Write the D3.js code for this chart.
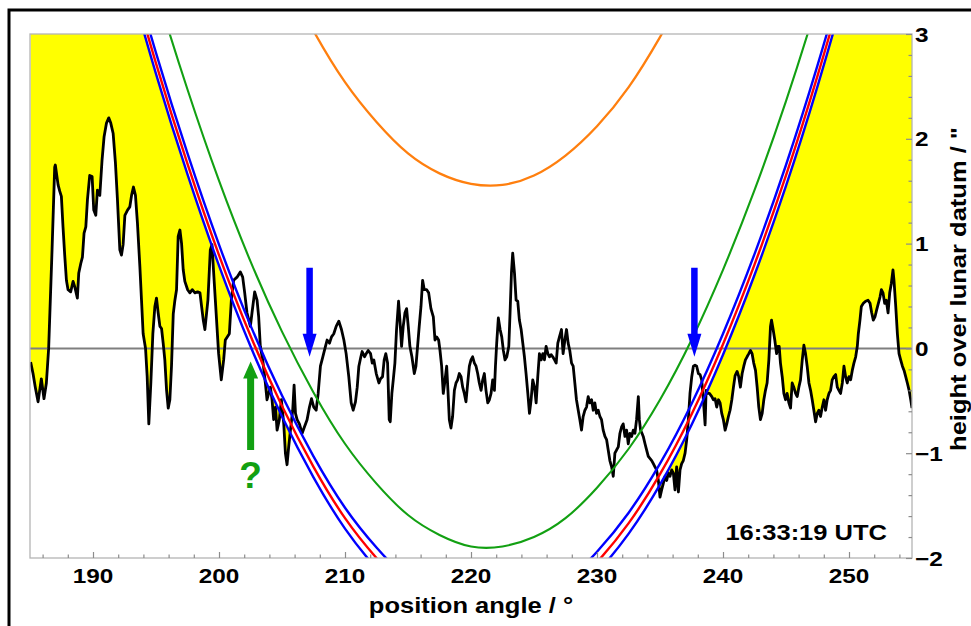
<!DOCTYPE html>
<html><head><meta charset="utf-8">
<script src="https://cdn.jsdelivr.net/npm/d3@7"></script>
<style>
body{margin:0;background:#fff}
svg{display:block}
text{font-family:"Liberation Sans",Arial,sans-serif;font-weight:bold;fill:#000}
</style>
</head><body>
<svg id="chart" width="971" height="626"></svg>
<script>
// ---------- DATA ----------
// lunar limb profile: [position angle (deg), height over lunar datum (arcsec)]
const profile = [
[185.05,-0.13],[185.24,-0.24],[185.42,-0.37],[185.64,-0.51],[185.90,-0.29],[186.11,-0.48],[186.30,-0.33],[186.48,0.00],[186.75,0.94],[186.96,1.73],[187.01,1.75],[187.23,1.56],[187.36,1.50],[187.49,1.45],[187.62,1.16],[187.76,0.88],[187.89,0.65],[188.02,0.56],[188.23,0.54],[188.42,0.64],[188.55,0.59],[188.76,0.48],[188.87,0.72],[189.03,0.81],[189.16,0.87],[189.29,1.10],[189.43,1.16],[189.56,1.42],[189.74,1.65],[189.93,1.64],[190.06,1.32],[190.22,1.27],[190.35,1.51],[190.54,1.46],[190.72,1.80],[190.88,2.02],[191.07,2.15],[191.25,2.20],[191.41,2.15],[191.60,2.05],[191.78,1.77],[191.94,1.42],[192.13,0.94],[192.26,0.89],[192.39,0.99],[192.53,1.27],[192.74,1.32],[192.92,1.35],[193.06,1.46],[193.21,1.54],[193.37,1.46],[193.53,1.19],[193.72,0.78],[193.85,0.46],[193.98,0.14],[194.17,0.00],[194.30,-0.27],[194.43,-0.72],[194.59,-0.33],[194.75,0.14],[194.91,0.40],[195.04,0.48],[195.17,0.34],[195.31,0.21],[195.44,0.19],[195.57,0.05],[195.70,-0.11],[195.84,-0.40],[195.97,-0.57],[196.10,-0.49],[196.23,-0.17],[196.37,0.33],[196.50,0.46],[196.63,0.56],[196.76,1.07],[196.90,1.13],[197.03,1.00],[197.16,0.75],[197.29,0.64],[197.51,0.56],[197.69,0.53],[197.88,0.56],[198.09,0.53],[198.30,0.54],[198.49,0.53],[198.62,0.40],[198.75,0.27],[198.88,0.18],
[199.12,0.46],[199.31,0.94],[199.44,0.99],[199.71,0.46],[199.97,-0.05],[200.18,-0.30],[200.37,-0.11],[200.50,0.08],[200.82,0.14],[200.98,0.46],[201.16,0.65],[201.43,0.68],[201.69,0.73],[201.88,0.68],[202.04,0.53],[202.22,0.34],[202.49,0.21],[202.62,0.34],[202.83,0.54],[203.02,0.46],[203.15,0.30],[203.28,0.02],[203.47,-0.11],[203.68,-0.33],[203.81,-0.49],[203.94,-0.43],[204.08,-0.37],[204.21,-0.49],[204.34,-0.68],[204.48,-0.56],[204.61,-0.78],[204.79,-0.68],[204.95,-0.49],[205.14,-0.72],[205.27,-1.00],[205.40,-1.11],[205.53,-0.94],[205.67,-0.78],[205.85,-0.59],[205.96,-0.35],[206.07,-0.62],[206.20,-0.68],[206.38,-0.72],[206.60,-0.81],[206.75,-0.76],[206.99,-0.68],[207.18,-0.56],[207.34,-0.48],[207.52,-0.56],[207.71,-0.59],[207.87,-0.43],[208.05,-0.17],[208.24,-0.08],[208.45,0.02],[208.58,0.08],[208.77,0.05],[208.93,0.11],[209.11,0.14],[209.30,0.21],[209.51,0.26],[209.72,0.18],[209.91,0.08],[210.09,-0.05],[210.30,-0.27],[210.49,-0.52],[210.65,-0.59],[210.83,-0.51],[210.97,-0.37],[211.10,-0.17],[211.26,-0.08],[211.36,-0.03],[211.55,-0.08],[211.68,-0.05],[211.84,-0.02],[212.03,-0.05],[212.16,-0.14],[212.29,-0.11],[212.48,-0.24],[212.69,-0.33],[212.82,-0.29],[212.98,-0.27],
[213.11,-0.11],[213.24,-0.05],[213.38,-0.14],[213.51,-0.68],[213.59,-0.70],[213.72,-0.43],[213.83,-0.30],[213.96,-0.14],[214.09,0.18],[214.25,0.45],[214.36,0.27],[214.49,0.02],[214.62,0.21],[214.76,0.34],[214.89,0.38],[215.02,0.21],[215.15,0.02],[215.31,-0.08],[215.50,-0.24],[215.63,-0.17],[215.76,0.02],[215.89,0.21],[216.03,0.40],[216.16,0.65],[216.29,0.56],[216.48,0.56],[216.64,0.53],[216.82,0.38],[217.01,0.30],[217.14,0.08],[217.27,0.11],[217.43,0.08],[217.54,-0.02],[217.67,-0.17],[217.80,-0.43],[217.91,-0.33],[218.07,-0.17],[218.17,-0.40],[218.28,-0.68],[218.41,-0.76],[218.54,-0.65],[218.68,-0.40],[218.81,-0.33],[218.94,-0.30],[219.07,-0.24],[219.21,-0.27],[219.34,-0.37],[219.47,-0.43],[219.60,-0.51],[219.74,-0.33],[219.87,-0.17],[220.00,-0.11],[220.13,-0.08],[220.27,-0.14],[220.40,-0.17],[220.53,-0.24],[220.66,-0.33],[220.80,-0.40],[220.93,-0.30],[221.06,-0.24],[221.19,-0.40],[221.33,-0.52],[221.46,-0.49],[221.59,-0.43],[221.72,-0.30],[221.86,-0.40],[221.94,-0.17],[222.04,0.05],[222.17,0.29],[222.31,0.18],[222.44,0.11],[222.57,-0.02],[222.70,-0.11],[222.84,-0.08],[223.00,0.02],[223.10,0.34],[223.21,0.72],[223.31,0.91],[223.45,0.72],[223.58,0.46],[223.71,0.45],[223.84,0.27],[223.98,0.18],[224.11,0.05],[224.24,-0.08],[224.37,-0.24],[224.51,-0.43],[224.64,-0.62],[224.77,-0.49],[224.90,-0.30],[225.04,-0.37],[225.17,-0.52],[225.30,-0.27],[225.43,-0.05],[225.57,-0.11],[225.70,-0.05],[225.83,-0.11],[225.96,0.02],[226.10,-0.05],[226.23,-0.08],[226.36,-0.06],[226.49,-0.08],[226.63,-0.11],[226.76,-0.14],[226.89,0.05],[227.02,0.11],
[227.18,0.18],[227.31,-0.05],[227.45,0.08],[227.58,0.18],[227.71,0.05],[227.84,-0.02],[227.98,-0.14],[228.11,-0.17],[228.24,-0.33],[228.37,-0.49],[228.51,-0.59],[228.64,-0.68],[228.77,-0.78],[228.90,-0.65],[229.04,-0.59],[229.17,-0.56],[229.30,-0.46],[229.43,-0.52],[229.57,-0.49],[229.70,-0.59],[229.83,-0.52],[229.96,-0.62],[230.10,-0.59],[230.23,-0.65],[230.36,-0.68],[230.49,-0.78],[230.63,-0.84],[230.76,-0.87],[230.89,-0.97],[231.02,-1.07],[231.16,-1.13],[231.29,-1.22],[231.42,-1.00],[231.55,-0.97],[231.69,-0.94],[231.82,-0.81],[231.95,-0.75],[232.08,-0.72],[232.22,-0.84],[232.35,-0.78],[232.48,-0.91],[232.61,-0.81],[232.75,-0.84],[232.88,-0.78],[233.01,-0.81],[233.14,-0.68],[233.28,-0.46],[233.36,-0.68],[233.46,-0.78],[233.57,-0.81],[233.67,-0.84],[233.81,-0.91],[233.94,-0.97],[234.07,-1.03],[234.20,-1.05],[234.34,-1.07],[234.47,-1.10],[234.60,-1.13],[234.73,-1.16],[234.87,-1.26],[235.00,-1.42],[235.13,-1.35],[235.26,-1.29],[235.40,-1.22],[235.53,-1.26],[235.66,-1.19],[235.79,-1.22],[235.93,-1.16],[236.06,-1.19],[236.19,-1.35],[236.32,-1.13],[236.46,-1.37],[236.59,-1.16],[236.72,-1.10],[236.85,-1.07],[236.99,-1.00],[237.12,-0.87],[237.25,-0.68],[237.38,-0.43],[237.52,-0.27],[237.65,-0.17],[237.78,-0.16],[237.91,-0.17],[238.05,-0.24],[238.18,-0.25],[238.31,-0.30],[238.44,-0.49],[238.58,-0.73],[238.66,-0.40],[238.76,-0.43],[238.92,-0.43],[239.11,-0.46],[239.24,-0.49],[239.37,-0.48],[239.50,-0.56],[239.64,-0.49],[239.77,-0.52],[239.90,-0.62],[240.03,-0.68],[240.17,-0.78],[240.30,-0.72],[240.43,-0.65],[240.56,-0.59],[240.70,-0.49],[240.83,-0.37],[240.96,-0.26],[241.12,-0.22],
[241.25,-0.27],[241.38,-0.37],[241.52,-0.24],[241.65,-0.17],[241.78,-0.11],[241.91,-0.08],[242.05,-0.05],[242.18,-0.02],[242.31,-0.05],[242.44,-0.14],[242.58,-0.21],[242.71,-0.37],[242.84,-0.56],[242.97,-0.68],[243.11,-0.62],[243.24,-0.49],[243.37,-0.40],[243.50,-0.33],[243.64,-0.11],[243.77,0.21],[243.85,0.27],[243.98,0.18],[244.11,0.08],[244.25,-0.05],[244.35,0.02],[244.46,0.02],[244.56,-0.14],[244.70,-0.27],[244.83,-0.43],[244.96,-0.49],[245.09,-0.43],[245.23,-0.52],[245.36,-0.57],[245.49,-0.33],[245.62,-0.37],[245.76,-0.43],[245.89,-0.46],[246.02,-0.37],[246.15,-0.30],[246.29,-0.11],[246.42,0.03],[246.55,-0.05],[246.68,-0.17],[246.82,-0.33],[246.95,-0.40],[247.08,-0.49],[247.21,-0.59],[247.35,-0.70],[247.48,-0.62],[247.61,-0.59],[247.74,-0.65],[247.88,-0.56],[248.01,-0.49],[248.14,-0.59],[248.27,-0.49],[248.41,-0.43],[248.54,-0.40],[248.67,-0.30],[248.80,-0.27],[248.94,-0.25],[249.07,-0.37],[249.20,-0.40],[249.33,-0.43],[249.47,-0.33],[249.60,-0.17],[249.73,-0.27],[249.86,-0.33],[250.00,-0.27],[250.13,-0.30],[250.26,-0.21],[250.39,-0.14],[250.53,-0.08],[250.66,0.02],[250.74,0.14],[250.87,0.27],[250.98,0.40],[251.14,0.43],[251.32,0.45],[251.51,0.46],[251.67,0.43],[251.80,0.34],[251.93,0.27],[252.06,0.30],[252.20,0.37],[252.33,0.43],[252.46,0.49],[252.57,0.56],[252.70,0.53],[252.83,0.43],[252.96,0.46],[253.10,0.34],[253.23,0.53],[253.36,0.62],[253.49,0.75],[253.57,0.65],[253.71,0.40],[253.84,0.14],[253.97,-0.05],[254.10,-0.11],[254.24,-0.17],[254.37,-0.21],[254.50,-0.27],[254.63,-0.33],[254.77,-0.40],[254.90,-0.49],[255.00,-0.57]
];

// limb curves sampled along position angle
const limbAngle   = [185,187.5,190,192.5,195,197.5,200,202.5,205,207.5,210,212.5,215,217.5,220,222.5,225,227.5,230,232.5,235,237.5,240,242.5,245,247.5,250,252.5,255];
const orangeLimb  = [11.69,10.34,9.09,7.94,6.88,5.92,5.05,4.28,3.61,3.03,2.54,2.16,1.86,1.67,1.57,1.56,1.65,1.84,2.12,2.49,2.97,3.53,4.20,4.96,5.81,6.76,7.81,8.95,10.19];
const greenLimb   = [8.24,6.89,5.64,4.49,3.43,2.47,1.60,0.83,0.16,-0.42,-0.91,-1.29,-1.59,-1.78,-1.89,-1.89,-1.80,-1.62,-1.33,-0.96,-0.49,0.08,0.75,1.51,2.36,3.31,4.36,5.50,6.74];
const blueUpper   = [7.63,6.28,5.03,3.88,2.82,1.86,0.99,0.22,-0.45,-1.03,-1.52,-1.90,-2.20,-2.39,-2.50,-2.50,-2.41,-2.23,-1.94,-1.57,-1.10,-0.53,0.14,0.90,1.75,2.70,3.75,4.89,6.13];
const redLimb     = [7.53,6.18,4.93,3.78,2.72,1.76,0.89,0.12,-0.55,-1.13,-1.62,-2.00,-2.30,-2.49,-2.60,-2.60,-2.51,-2.33,-2.04,-1.67,-1.20,-0.63,0.04,0.80,1.65,2.60,3.65,4.79,6.03];
const blueLower   = [7.43,6.08,4.83,3.68,2.62,1.66,0.79,0.02,-0.65,-1.23,-1.72,-2.10,-2.40,-2.59,-2.70,-2.70,-2.61,-2.43,-2.14,-1.77,-1.30,-0.73,-0.06,0.70,1.55,2.50,3.55,4.69,5.93];

// annotations: [angle, tail height, tip height]
const blueArrows  = [[207.19,0.77,-0.08],[237.73,0.77,-0.08]];
const greenArrow  = [202.51,-0.97,-0.125];
const questionMark = [202.51,-1.33];

// axes
const xDomain = [185,255];
const yDomain = [-2,3];
const xTicks = [190,200,210,220,230,240,250];
const yTicks = [-2,-1,0,1,2,3];
const xMinorStep = 2, yMinorStep = 0.2;
const xTitle = "position angle / °";
const yTitle = "height over lunar datum / \"";
const timeLabel = "16:33:19 UTC";

// ---------- DRAW ----------
const svg = d3.select("#chart");
const L = 30, R = 912, T = 34, B = 558;
const x = d3.scaleLinear().domain(xDomain).range([L, R]);
const y = d3.scaleLinear().domain(yDomain).range([B, T]);
const SX = 1.16; // horizontal glyph stretch of the original typeface

const defs = svg.append("defs");
defs.append("clipPath").attr("id","plotclip").append("rect")
  .attr("x",L).attr("y",T).attr("width",R-L).attr("height",B-T);

const curveLine = d3.line().x(d=>x(d[0])).y(d=>y(d[1])).curve(d3.curveNatural);
const zip = vals => limbAngle.map((a,i)=>[a, vals[i]]);

// region below the (outer) limb curve
const cp = curveLine(zip(blueLower));
const limbRegion = "M"+x(183)+","+y(30)+"L"+cp.slice(1)+"L"+x(257)+","+y(30)+"L"+x(257)+","+y(-6)+"L"+x(183)+","+y(-6)+"Z";
defs.append("clipPath").attr("id","limbclip").append("path").attr("d", limbRegion);

const plot = svg.append("g").attr("clip-path","url(#plotclip)");

// yellow filling between profile and limb
plot.append("g").attr("clip-path","url(#limbclip)")
  .append("path")
  .attr("d", d3.area().x(d=>x(d[0])).y0(d=>y(d[1])).y1(y(yDomain[1])-2)(profile))
  .attr("fill","#ffff00");

// zero line
plot.append("line").attr("x1",L).attr("x2",R).attr("y1",y(0)).attr("y2",y(0))
  .attr("stroke","#7f7f7f").attr("stroke-width",2);

// profile
plot.append("path").attr("d", d3.line().x(d=>x(d[0])).y(d=>y(d[1]))(profile))
  .attr("fill","none").attr("stroke","#000").attr("stroke-width",2.8).attr("stroke-linejoin","round");

// limb curves
const curves = [
  [greenLimb,"#12a012",2.1],
  [orangeLimb,"#ff7f0e",2.3],
  [blueUpper,"#0000ff",2.4],
  [blueLower,"#0000ff",2.4],
  [redLimb,"#ff0000",2.4]
];
curves.forEach(([vals,col,w])=>{
  plot.append("path").attr("d", curveLine(zip(vals)))
    .attr("fill","none").attr("stroke",col).attr("stroke-width",w);
});

// arrows
function arrow(a, from, to, col, shaftW, headW, headL){
  const cx = x(a), y0 = y(from), y1 = y(to);
  const dir = Math.sign(y1 - y0);
  const yh = y1 - dir*headL;
  const p = [
    [cx-shaftW/2,y0],[cx+shaftW/2,y0],[cx+shaftW/2,yh],[cx+headW/2,yh],
    [cx,y1],[cx-headW/2,yh],[cx-shaftW/2,yh]
  ];
  svg.append("path").attr("d", d3.line()(p)+"Z").attr("fill",col);
}
blueArrows.forEach(d=>arrow(d[0],d[1],d[2],"#0000ff",6.5,14,23));
arrow(greenArrow[0],greenArrow[1],greenArrow[2],"#12a012",7,15,17);
svg.append("text").attr("transform",`translate(${x(questionMark[0])},${y(questionMark[1])})`)
  .attr("text-anchor","middle").attr("font-size",37).style("fill","#12a012").text("?");

// frame
svg.append("rect").attr("x",L).attr("y",T).attr("width",R-L).attr("height",B-T)
  .attr("fill","none").attr("stroke","#b4b4b4").attr("stroke-width",1.3);

// ticks (inward) via d3 axes
const xMinor = d3.range(xDomain[0]+1, xDomain[1], xMinorStep).filter(v=>!xTicks.includes(v));
const yMinor = d3.range(yDomain[0], yDomain[1]+1e-9, yMinorStep).map(v=>+v.toFixed(2)).filter(v=>!yTicks.includes(v));
function styleAxis(g){ g.select(".domain").remove(); g.selectAll("line").attr("stroke","#8c8c8c").attr("stroke-width",1.2); g.selectAll("text").remove(); }
svg.append("g").attr("transform",`translate(0,${B})`).call(d3.axisBottom(x).tickValues(xTicks).tickSize(-6).tickFormat("")).call(styleAxis);
svg.append("g").attr("transform",`translate(0,${B})`).call(d3.axisBottom(x).tickValues(xMinor).tickSize(-3.5).tickFormat("")).call(styleAxis);
svg.append("g").attr("transform",`translate(${R},0)`).call(d3.axisRight(y).tickValues(yTicks).tickSize(-6).tickFormat("")).call(styleAxis);
svg.append("g").attr("transform",`translate(${R},0)`).call(d3.axisRight(y).tickValues(yMinor).tickSize(-3.5).tickFormat("")).call(styleAxis);

// labels
const fmt = v => (v<0 ? "\u2212"+Math.abs(v) : ""+v);
xTicks.forEach(v=>{
  svg.append("text").attr("transform",`translate(${x(v)},583) scale(${SX},1)`)
    .attr("text-anchor","middle").attr("font-size",21).text(fmt(v));
});
yTicks.forEach(v=>{
  svg.append("text").attr("transform",`translate(915,${y(v)+7.5}) scale(${SX},1)`)
    .attr("text-anchor","start").attr("font-size",21).text(fmt(v));
});
svg.append("text").attr("transform",`translate(${(L+R)/2},613) scale(${SX},1)`)
  .attr("text-anchor","middle").attr("font-size",22).text(xTitle);
svg.append("text").attr("transform",`translate(965.5,289) rotate(-90) scale(${SX},1)`)
  .attr("text-anchor","middle").attr("font-size",22).text(yTitle);
svg.append("text").attr("transform",`translate(887,540) scale(${SX},1)`)
  .attr("text-anchor","end").attr("font-size",22).text(timeLabel);

// outer border of the figure
svg.append("rect").attr("x",9).attr("y",10).attr("width",1100).attr("height",800)
  .attr("fill","none").attr("stroke","#000").attr("stroke-width",3);
</script>
</body></html>
